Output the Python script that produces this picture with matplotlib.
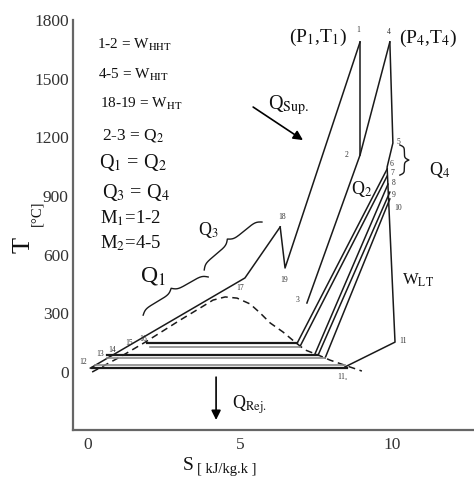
import numpy as np
import matplotlib
matplotlib.use('Agg')
import matplotlib.pyplot as plt

plt.rcParams['font.family'] = ['Liberation Serif', 'DejaVu Serif']
plt.rcParams['mathtext.fontset'] = 'stix'

# ---------------- data ----------------
x_ticks = [0, 5, 10]
y_ticks = [0, 300, 600, 900, 1200, 1500, 1800]

# saturation dome (dashed)
dome_s = [0.13, 1.05, 1.88, 3.03, 3.68, 4.11, 4.51, 4.90, 5.33, 5.66, 5.99,
          6.41, 6.81, 7.14, 7.57, 7.96, 8.52, 9.01]
dome_T = [0, 77, 153, 266, 327, 368, 384, 378, 348, 302, 251,
          205, 153, 113, 87, 61, 31, 5]

# liquid heating line 12-16-17-18
liquid_s = [0.07, 5.16, 6.32]
liquid_T = [20, 481, 742]
# 18-19-1
hp_s = [6.32, 6.48, 8.95]
hp_T = [742, 532, 1688]
# 1-2
exp12_s = [8.95, 8.95]
exp12_T = [1688, 1110]
# 4-2-3
line423_s = [9.93, 8.95, 7.20]
line423_T = [1688, 1110, 353]
# 4-5-6-11-11s
line4_s = [9.93, 10.03, 9.84, 10.10, 8.45]
line4_T = [1688, 1171, 1048, 153, 26]
# expansion lines from 6..10 to condensers
slant_top_s = [9.84, 9.84, 9.87, 9.93, 9.93]
slant_top_T = [1038, 1002, 961, 920, 885]
slant_bot_s = [6.88, 6.97, 7.45, 7.57, 7.80]
slant_bot_T = [148, 130, 87, 87, 72]
# condensation (horizontal) lines
cond_T = [148, 130, 87, 72, 36, 23]
cond_s0 = [1.94, 2.04, 0.62, 0.62, 0.23, 0.13]
cond_s1 = [6.88, 6.97, 7.57, 7.80, 8.45, 8.52]
cond_dark = [True, False, True, False, False, True]

# state point labels
pt_labels = ['1', '4', '2', '3', '5', '6', '7', '8', '9', '10', '11', '11$_s$',
             '17', '18', '19', '12', '13', '14', '15', '16']
pt_s = [8.88, 9.90, 8.52, 6.88, 10.20, 9.97, 10.00, 10.07, 10.07, 10.20, 10.36, 8.39,
        5.00, 6.38, 6.45, -0.16, 0.39, 0.79, 1.35, 1.81]
pt_T = [1749, 1739, 1110, 368, 1176, 1064, 1018, 967, 905, 839, 159, -26,
        430, 793, 470, 51, 90, 115, 146, 170]

# text block
note_texts = [r'1-2 = W$_{\rm HHT}$', r'4-5 = W$_{\rm HIT}$', r'18-19 = W$_{\rm HT}$',
              r'2-3 = Q$_2$', r'Q$_1$ = Q$_2$', r'Q$_3$ = Q$_4$',
              r'M$_1$=1-2', r'M$_2$=4-5']
note_s = [0.30, 0.33, 0.40, 0.46, 0.36, 0.44, 0.38, 0.38]
note_T = [1672, 1519, 1371, 1212, 1069, 920, 788, 660]
note_size = [11, 11, 11, 12.5, 14.5, 14.5, 13.5, 13.5]

# heat / work labels
lab_texts = [r'(P$_1$,T$_1$)', r'(P$_4$,T$_4$)', r'Q$_{\rm Sup.}$', r'Q$_2$', r'Q$_4$',
             r'Q$_3$', r'Q$_1$', r'W$_{\rm LT}$', r'Q$_{\rm Rej.}$']
lab_s = [7.57, 11.18, 6.60, 9.01, 11.58, 3.95, 2.14, 10.86, 5.30]
lab_T = [1713, 1708, 1365, 936, 1033, 726, 491, 470, -169]
lab_size = [14, 14, 14.5, 13, 13, 13, 17, 12, 13]

# arrows (start -> end)
arr_s0 = [5.43, 4.21]
arr_T0 = [1355, -26]
arr_s1 = [7.07, 4.21]
arr_T1 = [1186, -245]

# braces (from, to)
br_s0 = [1.81, 3.82, 10.26]
br_T0 = [291, 522, 1161]
br_s1 = [3.95, 5.72, 10.26]
br_T1 = [486, 767, 1007]

# ---------------- figure ----------------
fig = plt.figure(figsize=(4.74, 4.88), dpi=100)
ax = fig.add_axes([0.154, 0.119, 0.846, 0.840])
ax.set_xlim(-0.5, 12.7)
ax.set_ylim(-296, 1800)

for sp in ['top', 'right']:
    ax.spines[sp].set_visible(False)
for sp in ['left', 'bottom']:
    ax.spines[sp].set_color('#666666')
    ax.spines[sp].set_linewidth(1.6)

ax.set_xticks(x_ticks)
ax.set_yticks(y_ticks)
ax.tick_params(length=0, labelsize=12.5, labelcolor='#333333')
ax.tick_params(axis='y', pad=3)
ax.tick_params(axis='x', pad=5)

lc = '#1a1a1a'
lw = 1.1

ax.plot(dome_s, dome_T, ls=(0, (4.5, 3)), color=lc, lw=lw)
ax.plot(liquid_s, liquid_T, color=lc, lw=lw)
ax.plot(hp_s, hp_T, color=lc, lw=lw)
ax.plot(exp12_s, exp12_T, color=lc, lw=lw)
ax.plot(line423_s, line423_T, color=lc, lw=lw)
ax.plot(line4_s, line4_T, color=lc, lw=lw)
for a, b, c, d in zip(slant_top_s, slant_bot_s, slant_top_T, slant_bot_T):
    ax.plot([a, b], [c, d], color=lc, lw=lw)
for T, s0, s1, dk in zip(cond_T, cond_s0, cond_s1, cond_dark):
    ax.plot([s0, s1], [T, T], color=lc if dk else '#8a8a8a', lw=1.6 if dk else 1.2)

for t, s, T in zip(pt_labels, pt_s, pt_T):
    ax.text(s, T, t, fontsize=5.5, ha='center', va='center', color='#333333')

for t, s, T, fs in zip(note_texts, note_s, note_T, note_size):
    ax.text(s, T, t, fontsize=fs, ha='left', va='center', color='#111111')

for t, s, T, fs in zip(lab_texts, lab_s, lab_T, lab_size):
    ax.text(s, T, t, fontsize=fs, ha='center', va='center', color='#111111')

for a, b, c, d in zip(arr_s0, arr_T0, arr_s1, arr_T1):
    ax.annotate('', xy=(c, d), xytext=(a, b),
                arrowprops=dict(arrowstyle='-|>', color='black', lw=1.2,
                                mutation_scale=14, shrinkA=0, shrinkB=0))


def brace(p0, p1, width=10, beta=30.0):
    P0 = ax.transData.transform(p0)
    P1 = ax.transData.transform(p1)
    d = P1 - P0
    L = np.hypot(*d)
    u = d / L
    n = np.array([-u[1], u[0]])
    half = np.linspace(0, 0.5, 120)
    yh = (1 / (1 + np.exp(-beta * (half - half[0]))) +
          1 / (1 + np.exp(-beta * (half - half[-1]))))
    y = np.concatenate([yh, yh[::-1]]) - 0.5
    t = np.concatenate([half, 1 - half[::-1]])
    pts = P0[None, :] + np.outer(t * L, u) + np.outer(y * width, n)
    data = ax.transData.inverted().transform(pts)
    ax.plot(data[:, 0], data[:, 1], color=lc, lw=1.0)


for a, b, c, d in zip(br_s0, br_T0, br_s1, br_T1):
    brace((a, b), (c, d), width=9)

# axis labels
fig.text(24 / 474, 1 - 245 / 488, 'T', rotation=90, fontsize=19,
         ha='center', va='center', color='#111111')
fig.text(37 / 474, 1 - 213 / 488, '[°C]', rotation=90, fontsize=10.5,
         ha='center', va='center', color='#111111')
fig.text(188 / 474, 1 - 465 / 488, 'S', fontsize=14,
         ha='center', va='center', color='#111111')
fig.text(197 / 474, 1 - 470 / 488, '[ kJ/kg.k ]', fontsize=10.5,
         ha='left', va='center', color='#111111')

fig.savefig('out.png', dpi=100)
